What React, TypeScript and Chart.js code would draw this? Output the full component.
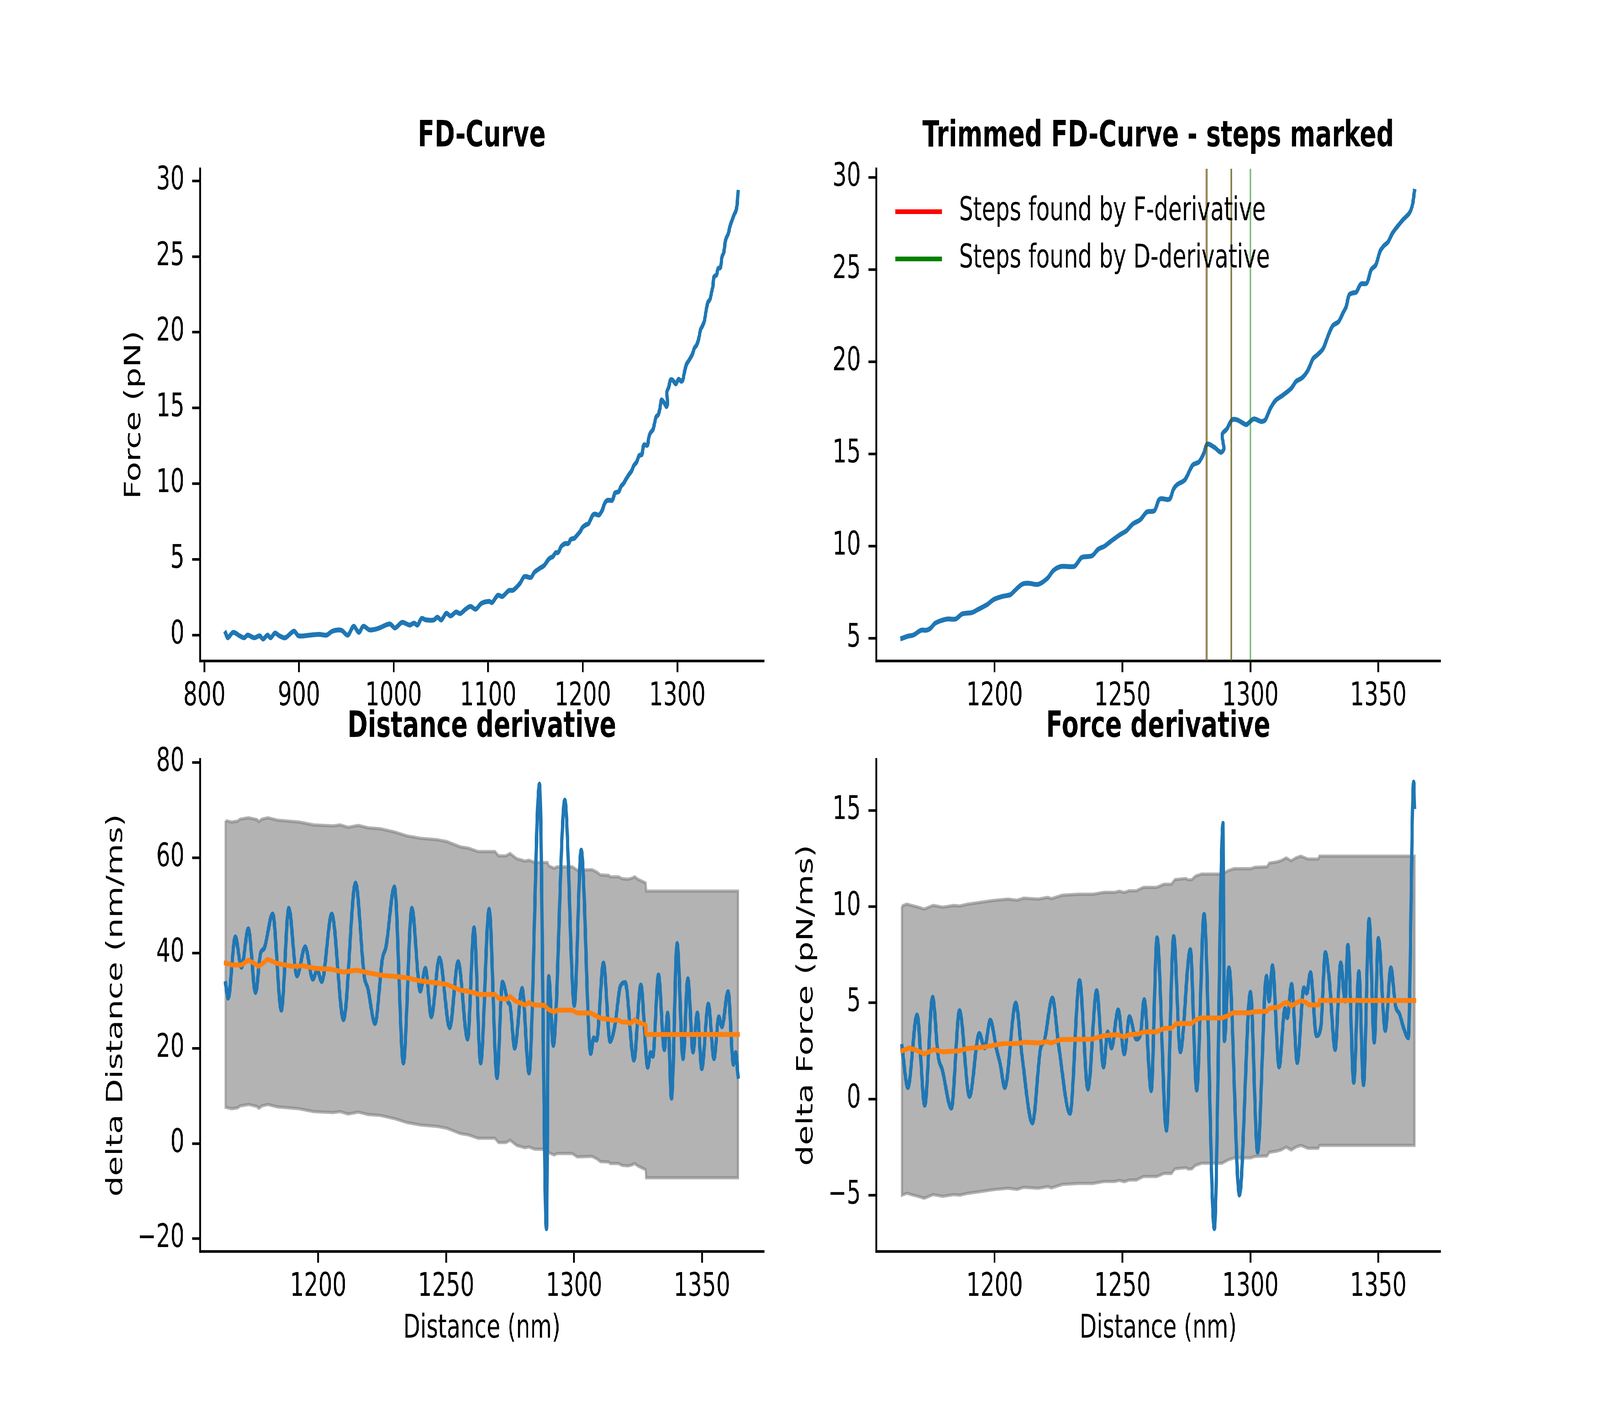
import React, { useEffect, useRef } from "react";
import Chart from "chart.js/auto";

// ---------- FD curve: distance (nm) / force (pN) ----------
const fdDistance = [
  822.4, 824.7, 830.3, 837.3, 842.0, 845.7, 852.7, 858.3, 862.0, 866.7,
  870.0, 874.6, 879.3, 885.4, 894.7, 899.4, 912.0, 921.3, 929.2, 935.3,
  944.6, 951.6, 957.7, 963.3, 967.9, 974.9, 984.2, 995.9, 1001.5, 1009.0,
  1016.9, 1021.6, 1025.3, 1029.5, 1034.2, 1042.5, 1046.3, 1050.5, 1055.6, 1060.3,
  1065.9, 1070.5, 1076.1, 1081.3, 1086.8, 1092.9, 1100.9, 1104.1, 1110.2, 1114.9,
  1121.8, 1126.5, 1133.5, 1138.2, 1145.2, 1148.9, 1154.5, 1159.2, 1163.8, 1166.3,
  1168.3, 1171.3, 1173.3, 1174.8, 1176.8, 1179.3, 1181.8, 1184.8, 1187.3, 1191.2,
  1193.2, 1197.2, 1199.7, 1203.2, 1206.2, 1208.2, 1210.7, 1213.1, 1217.1, 1220.6,
  1223.1, 1226.1, 1231.1, 1232.6, 1234.1, 1238.1, 1240.5, 1243.0, 1245.5, 1249.0,
  1251.5, 1254.0, 1257.0, 1259.5, 1262.5, 1264.5, 1268.4, 1269.9, 1271.4, 1274.4,
  1277.4, 1279.9, 1281.7, 1283.1, 1285.9, 1288.4, 1289.6, 1289.0, 1290.8, 1292.8,
  1294.8, 1298.3, 1299.3, 1301.3, 1304.3, 1305.8, 1307.8, 1309.8, 1312.4, 1315.9,
  1317.9, 1320.2, 1322.4, 1324.5, 1326.2, 1328.4, 1330.5, 1332.2, 1334.5, 1336.2,
  1337.4, 1338.6, 1340.0, 1341.4, 1343.1, 1345.5, 1347.2, 1349.0, 1350.7, 1352.1,
  1353.8, 1355.5, 1357.6, 1359.8, 1362.1, 1363.3, 1364.1,
];
const fdForce = [
  0.13, -0.18, 0.18, -0.05, -0.18, 0.0, -0.18, -0.05, -0.26, 0.0,
  -0.18, 0.13, -0.05, -0.18, 0.26, -0.05, 0.0, 0.05, 0.0, 0.26,
  0.32, 0.0, 0.58, 0.18, 0.58, 0.34, 0.45, 0.74, 0.47, 0.84,
  0.66, 0.79, 0.66, 1.1, 1.0, 1.0, 1.18, 1.0, 1.44, 1.26,
  1.52, 1.42, 1.71, 1.89, 1.71, 2.1, 2.23, 2.15, 2.63, 2.55,
  2.94, 2.97, 3.41, 3.86, 3.81, 4.15, 4.41, 4.6, 5.0, 5.12,
  5.18, 5.44, 5.44, 5.53, 5.82, 5.97, 6.05, 6.05, 6.32, 6.4,
  6.54, 6.84, 7.11, 7.28, 7.37, 7.63, 7.93, 7.99, 7.93, 8.25,
  8.69, 8.9, 8.9, 9.13, 9.39, 9.48, 9.83, 10.0, 10.27, 10.62,
  10.83, 11.2, 11.44, 11.85, 11.93, 12.55, 12.55, 13.08, 13.34, 13.6,
  14.39, 14.57, 15.01, 15.53, 15.36, 15.09, 15.27, 16.06, 16.36, 16.85,
  16.85, 16.59, 16.68, 16.9, 16.76, 16.85, 17.47, 17.9, 18.16, 18.55,
  18.94, 19.13, 19.52, 20.17, 20.38, 20.71, 21.46, 21.96, 22.18, 22.65,
  22.98, 23.63, 23.73, 23.78, 24.21, 24.27, 24.99, 25.25, 26.0, 26.28,
  26.5, 26.97, 27.36, 27.73, 28.06, 28.49, 29.24,
];
const trimFrom = 1163;

// ---------- steps marked on the trimmed curve ----------
const fSteps = [1282.8, 1292.5];
const dSteps = [1283.0, 1292.5, 1300.0];
const stepLabels = ["Steps found by F-derivative", "Steps found by D-derivative"];

// ---------- distance derivative (nm/ms) ----------
const distDerivX = [
  1163.8, 1164.8, 1167.6, 1170.0, 1172.7, 1175.5, 1177.5, 1178.9, 1182.2, 1185.6,
  1188.5, 1191.7, 1194.9, 1197.9, 1199.6, 1201.4, 1205.3, 1209.9, 1214.6, 1218.0,
  1219.4, 1222.2, 1225.1, 1226.5, 1229.8, 1233.3, 1236.6, 1239.9, 1241.9, 1244.2,
  1247.4, 1251.4, 1254.7, 1258.4, 1260.9, 1263.5, 1266.8, 1269.9, 1272.0, 1274.3,
  1275.0, 1276.8, 1279.7, 1282.4, 1286.5, 1289.2, 1290.1, 1291.9, 1296.4, 1300.1,
  1302.8, 1306.5, 1307.7, 1308.8, 1311.5, 1314.1, 1316.0, 1318.1, 1320.0, 1323.4,
  1326.1, 1328.8, 1329.9, 1330.8, 1333.0, 1335.3, 1336.6, 1338.1, 1340.3, 1342.6,
  1344.5, 1346.5, 1348.2, 1349.9, 1352.5, 1354.7, 1356.6, 1357.8, 1360.2, 1362.3,
  1363.2, 1364.1,
];
const distDerivY = [
  33.6, 30.5, 43.4, 37.0, 45.1, 31.7, 40.0, 41.0, 48.2, 28.0,
  49.4, 35.2, 41.3, 34.5, 36.4, 34.0, 48.2, 26.0, 54.7, 35.1,
  32.6, 25.2, 38.8, 41.3, 53.9, 16.9, 49.4, 32.0, 36.8, 26.6,
  39.0, 24.3, 38.2, 21.9, 45.3, 16.9, 49.2, 13.8, 33.9, 29.6,
  29.0, 20.0, 32.6, 14.8, 75.5, -17.9, 35.1, 20.6, 72.1, 29.0,
  61.6, 18.9, 22.2, 21.7, 37.9, 21.4, 24.9, 33.0, 33.8, 17.5,
  33.3, 16.0, 19.1, 18.3, 35.4, 19.7, 27.4, 9.5, 42.0, 17.8,
  34.6, 19.2, 27.4, 15.7, 29.3, 17.8, 26.6, 24.5, 31.9, 16.6,
  19.1, 14.1,
];
const distMeanX = [
  1163.8, 1166.2, 1170.0, 1172.7, 1175.0, 1176.8, 1178.5, 1180.2, 1184.0, 1190.0,
  1194.0, 1198.9, 1205.0, 1210.0, 1215.0, 1220.0, 1225.0, 1230.0, 1234.7, 1239.4,
  1246.5, 1250.3, 1255.5, 1258.3, 1263.0, 1269.1, 1270.5, 1273.8, 1275.0, 1277.1,
  1280.9, 1282.3, 1284.2, 1288.5, 1290.1, 1292.2, 1293.4, 1299.3, 1301.2, 1306.5,
  1307.5, 1309.4, 1310.3, 1313.6, 1314.5, 1317.4, 1318.8, 1321.1, 1322.1, 1323.7,
  1324.9, 1328.0, 1328.2, 1364.1,
];
const distMeanY = [
  37.9, 37.5, 37.5, 38.5, 37.8, 37.2, 37.9, 38.7, 37.8, 37.2,
  37.3, 36.8, 36.6, 36.0, 36.4, 35.8, 35.3, 35.1, 34.8, 34.2,
  33.7, 33.4, 32.2, 32.0, 31.3, 31.3, 30.5, 30.3, 30.9, 29.9,
  29.1, 29.6, 29.1, 29.0, 28.1, 27.6, 28.0, 28.0, 27.4, 27.4,
  27.1, 26.6, 26.3, 26.1, 25.9, 25.9, 25.5, 25.5, 25.2, 26.0,
  25.5, 24.9, 22.9, 22.9,
];
const distBandX = [
  1163.8, 1166.2, 1168.5, 1169.5, 1172.8, 1176.1, 1176.8, 1178.0, 1180.3, 1184.1,
  1192.6, 1198.2, 1205.8, 1208.6, 1211.7, 1215.7, 1219.5, 1224.2, 1230.0, 1234.7,
  1239.9, 1246.5, 1250.3, 1255.5, 1258.8, 1262.5, 1269.1, 1270.5, 1273.4, 1275.0,
  1277.6, 1280.9, 1282.3, 1284.7, 1289.6, 1290.1, 1292.2, 1293.4, 1299.3, 1301.2,
  1307.0, 1308.9, 1310.3, 1313.6, 1314.1, 1317.4, 1318.8, 1321.1, 1322.6, 1323.7,
  1324.9, 1328.0, 1328.2, 1364.1,
];
const distBandUpper = [
  67.8, 67.5, 67.7, 68.1, 68.4, 68.0, 67.6, 68.1, 68.4, 67.9,
  67.5, 66.9, 66.7, 66.9, 66.4, 66.8, 66.3, 66.1, 65.4, 64.6,
  64.1, 63.8, 63.4, 62.3, 62.0, 61.3, 61.3, 60.4, 60.4, 60.9,
  59.8, 59.3, 59.5, 59.0, 59.0, 58.3, 57.8, 58.1, 58.1, 57.4,
  57.5, 57.0, 56.4, 56.3, 56.0, 56.0, 55.6, 55.5, 55.7, 56.0,
  55.5, 54.7, 53.0, 53.0,
];
const distBandLower = [
  7.6, 7.3, 7.5, 7.9, 8.2, 7.8, 7.4, 7.9, 8.2, 7.7,
  7.3, 6.7, 6.5, 6.7, 6.2, 6.6, 6.1, 5.9, 5.2, 4.4,
  3.9, 3.6, 3.2, 2.1, 1.8, 1.1, 1.1, 0.2, 0.2, 0.7,
  -0.4, -0.9, -0.7, -1.2, -1.2, -1.9, -2.4, -2.1, -2.1, -2.8,
  -2.7, -3.2, -3.8, -3.9, -4.2, -4.2, -4.6, -4.7, -4.5, -4.2,
  -4.7, -5.5, -7.2, -7.2,
];

// ---------- force derivative (pN/ms) ----------
const forceDerivX = [
  1163.8, 1166.1, 1169.7, 1172.7, 1175.8, 1177.9, 1179.6, 1183.1, 1186.3, 1190.2,
  1194.0, 1196.1, 1198.3, 1200.8, 1202.2, 1204.0, 1208.3, 1210.7, 1214.8, 1218.0,
  1219.4, 1222.6, 1225.1, 1229.5, 1233.2, 1236.5, 1239.9, 1242.6, 1244.2, 1245.7,
  1248.3, 1250.7, 1252.7, 1255.4, 1257.0, 1258.5, 1261.2, 1263.5, 1267.2, 1270.0,
  1272.6, 1276.5, 1279.0, 1281.9, 1285.9, 1289.3, 1289.8, 1291.6, 1295.7, 1300.0,
  1302.8, 1306.3, 1307.3, 1308.6, 1311.2, 1313.5, 1314.4, 1316.1, 1318.3, 1320.9,
  1322.0, 1323.5, 1325.8, 1327.5, 1329.3, 1330.8, 1333.1, 1335.3, 1337.0, 1338.1,
  1340.4, 1342.4, 1344.2, 1346.4, 1348.4, 1350.0, 1352.7, 1354.9, 1356.7, 1358.3,
  1360.0, 1361.7, 1363.8, 1364.1,
];
const forceDerivY = [
  2.73, 0.59, 4.37, -0.33, 5.29, 2.27, 1.5, -0.48, 4.59, 0.13,
  3.41, 2.65, 4.1, 2.57, 1.81, 0.59, 4.99, 2.27, -1.25, 2.65,
  3.0, 5.25, 2.73, -0.75, 6.16, 0.51, 5.63, 1.66, 3.49, 2.65,
  4.63, 2.34, 4.28, 3.11, 3.34, 5.17, 0.43, 8.38, -1.63, 8.45,
  2.45, 7.77, 0.46, 9.6, -6.74, 14.33, 3.03, 6.82, -4.99, 5.55,
  -2.77, 6.39, 5.09, 6.93, 1.66, 4.71, 4.22, 5.96, 1.89, 5.78,
  5.5, 6.57, 3.29, 3.72, 7.61, 6.24, 2.57, 7.08, 5.09, 7.99,
  0.86, 6.62, 0.74, 9.34, 2.95, 8.35, 3.56, 6.82, 4.86, 4.41,
  3.64, 3.18, 16.47, 15.2,
];
const forceMeanX = [
  1163.8, 1166.6, 1169.4, 1172.6, 1176.3, 1179.8, 1185.9, 1189.2, 1195.8, 1203.4,
  1209.0, 1211.4, 1217.5, 1220.4, 1222.2, 1226.0, 1238.0, 1242.7, 1247.9, 1250.7,
  1252.6, 1256.3, 1258.2, 1263.4, 1266.2, 1269.1, 1271.0, 1277.1, 1278.0, 1280.4,
  1288.9, 1291.2, 1293.1, 1299.7, 1301.1, 1306.5, 1307.4, 1311.2, 1313.1, 1314.5,
  1315.9, 1317.3, 1319.7, 1322.0, 1322.8, 1326.8, 1327.0, 1364.1,
];
const forceMeanY = [
  2.5, 2.65, 2.54, 2.34, 2.57, 2.45, 2.5, 2.62, 2.7, 2.88,
  2.88, 2.95, 2.91, 2.98, 2.91, 3.09, 3.11, 3.29, 3.34, 3.23,
  3.34, 3.38, 3.49, 3.49, 3.67, 3.67, 3.92, 3.92, 4.05, 4.21,
  4.21, 4.33, 4.48, 4.48, 4.53, 4.56, 4.71, 4.79, 4.99, 5.02,
  4.83, 4.94, 5.12, 4.99, 4.89, 4.89, 5.12, 5.12,
];
const forceBandX = [
  1163.8, 1165.7, 1167.5, 1169.9, 1172.5, 1176.0, 1179.8, 1184.1, 1186.4, 1189.2,
  1194.0, 1199.6, 1205.3, 1208.8, 1211.4, 1217.1, 1220.8, 1222.2, 1226.5, 1232.8,
  1238.4, 1242.7, 1246.9, 1248.8, 1250.7, 1252.6, 1255.4, 1258.2, 1263.4, 1266.2,
  1269.1, 1270.5, 1274.7, 1275.7, 1277.1, 1278.5, 1280.9, 1288.9, 1291.2, 1293.6,
  1300.2, 1301.6, 1306.5, 1307.4, 1310.3, 1311.9, 1314.0, 1315.9, 1317.8, 1319.7,
  1322.5, 1326.5, 1327.0, 1364.1,
];
const forceBandUpper = [
  10.03, 10.13, 10.06, 9.98, 9.87, 10.06, 9.97, 10.06, 10.03, 10.12,
  10.21, 10.32, 10.39, 10.33, 10.44, 10.39, 10.48, 10.41, 10.59, 10.64,
  10.64, 10.74, 10.74, 10.8, 10.73, 10.82, 10.82, 11.0, 11.0, 11.16,
  11.16, 11.4, 11.46, 11.39, 11.4, 11.58, 11.69, 11.69, 11.86, 11.97,
  11.97, 12.04, 12.07, 12.26, 12.32, 12.38, 12.53, 12.38, 12.53, 12.62,
  12.47, 12.47, 12.62, 12.62,
];
const forceBandLower = [
  -5.0, -4.9, -4.97, -5.05, -5.16, -4.97, -5.06, -4.97, -5.0, -4.91,
  -4.82, -4.71, -4.64, -4.7, -4.59, -4.64, -4.55, -4.62, -4.44, -4.39,
  -4.39, -4.29, -4.29, -4.23, -4.3, -4.21, -4.21, -4.03, -4.03, -3.87,
  -3.87, -3.63, -3.57, -3.64, -3.63, -3.45, -3.34, -3.34, -3.17, -3.06,
  -3.06, -2.99, -2.96, -2.77, -2.71, -2.65, -2.5, -2.65, -2.5, -2.41,
  -2.56, -2.56, -2.41, -2.41,
];

// ---------- ticks and axis limits ----------
const fdTicksX = [800, 900, 1000, 1100, 1200, 1300];
const fdTicksY = [0, 5, 10, 15, 20, 25, 30];
const trimTicksX = [1200, 1250, 1300, 1350];
const trimTicksY = [5, 10, 15, 20, 25, 30];
const distTicksY = [-20, 0, 20, 40, 60, 80];
const forceTicksY = [-5, 0, 5, 10, 15];

const fdLimX = [795.3, 1391.2];
const fdLimY = [-1.7, 30.8];
const trimLimX = [1153.8, 1374.1];
const trimLimY = [3.78, 30.47];
const distLimY = [-22.65, 80.7];
const forceLimY = [-7.92, 17.66];

// ---------- style ----------
const FIG_W = 6000;
const FIG_H = 3600;
const PX = 600 / 72; // pixels per point
const FONT = "'DejaVu Sans', sans-serif";
const FONT_PX = 10 * PX;
const TITLE_PX = 92;
const LINE_W = 1.5 * PX;
const SPINE_W = 0.8 * PX;
const TICK_LEN = 3.5 * PX;
const BLUE = "#1f77b4";
const ORANGE = "#ff7f0e";
const BAND = "rgba(128,128,128,0.6)";

Chart.defaults.font.family = FONT;
Chart.defaults.color = "#000";

// canvas pieces: each subplot gets its own canvas, overlapping is fine
const COLS = [
  { canvasLeft: 0, canvasWidth: 3000, axesLeft: 750, axesRight: 2863.6 },
  { canvasLeft: 2900, canvasWidth: 3100, axesLeft: 386.4, axesRight: 2500 },
];
const ROWS = [
  { canvasTop: 0, canvasHeight: 1900, axesTop: 432, axesBottom: 1692 },
  { canvasTop: 1750, canvasHeight: 1850, axesTop: 194, axesBottom: 1454 },
];

const pts = (xs: number[], ys: number[]) => xs.map((x, i) => ({ x, y: ys[i] }));
const band = (xs: number[], up: number[], lo: number[]) => [
  ...pts(xs, up),
  ...pts(xs, lo).reverse(),
  { x: xs[0], y: up[0] },
];
const fmt = (v: number) => String(v).replace("-", "\u2212");

// legend drawn inside the axes, upper left, without a frame
const stepLegend = {
  id: "stepLegend",
  afterDatasetsDraw(chart: any, _args: any, opts: any) {
    if (!opts || !opts.labels) return;
    const { ctx, chartArea } = chart;
    ctx.save();
    opts.labels.forEach((label: string, i: number) => {
      const y = chartArea.top + opts.firstRow + i * opts.rowGap;
      ctx.strokeStyle = opts.colors[i];
      ctx.lineWidth = opts.lineWidth;
      ctx.lineCap = "butt";
      ctx.beginPath();
      ctx.moveTo(chartArea.left + opts.handleX, y);
      ctx.lineTo(chartArea.left + opts.handleX + opts.handleLength, y);
      ctx.stroke();
      ctx.fillStyle = "#000";
      ctx.font = `${FONT_PX}px ${FONT}`;
      ctx.textAlign = "left";
      ctx.textBaseline = "middle";
      ctx.fillText(label, chartArea.left + opts.textX, y);
    });
    ctx.restore();
  },
};

interface PlotSpec {
  col: number;
  row: number;
  title: string;
  yBoxLeft: number;
  xLim: number[];
  xTicks: number[];
  yLim: number[];
  yTicks: number[];
  yTitle?: string;
  xTitle?: string;
}

function makeOptions(p: PlotSpec) {
  const c = COLS[p.col];
  const r = ROWS[p.row];
  const titleGap = 26;
  const titleBox = TITLE_PX * 1.2 + titleGap;
  const tickStyle = {
    color: "#000",
    font: { size: FONT_PX, family: FONT },
    maxRotation: 0,
    autoSkip: false,
    callback: (v: any) => fmt(Number(v)),
  };
  const grid = {
    display: true,
    drawOnChartArea: false,
    drawTicks: true,
    tickLength: TICK_LEN,
    color: "#000",
    lineWidth: SPINE_W,
  };
  return {
    responsive: false,
    animation: false,
    devicePixelRatio: 1,
    events: [],
    layout: {
      padding: {
        left: p.yBoxLeft,
        top: r.axesTop - titleBox,
        right: c.canvasWidth - c.axesRight,
        bottom: 0,
      },
    },
    plugins: {
      legend: { display: false },
      tooltip: { enabled: false },
      title: {
        display: true,
        text: p.title,
        fullSize: false,
        color: "#000",
        font: { size: TITLE_PX, weight: "bold", family: FONT, lineHeight: 1.2 },
        padding: { top: 0, bottom: titleGap },
      },
    },
    scales: {
      x: {
        type: "linear",
        position: "bottom",
        bounds: "data",
        min: p.xLim[0],
        max: p.xLim[1],
        afterBuildTicks: (s: any) => {
          s.ticks = p.xTicks.map((value) => ({ value }));
        },
        afterFit: (s: any) => {
          s.height = r.canvasHeight - r.axesBottom;
        },
        grid,
        border: { display: true, color: "#000", width: SPINE_W },
        ticks: { ...tickStyle, padding: 13 },
        title: p.xTitle
          ? {
              display: true,
              text: p.xTitle,
              color: "#000",
              font: { size: FONT_PX, family: FONT, lineHeight: 1.2 },
              padding: { top: 0, bottom: 147 },
            }
          : { display: false },
      },
      y: {
        type: "linear",
        position: "left",
        bounds: "data",
        min: p.yLim[0],
        max: p.yLim[1],
        afterBuildTicks: (s: any) => {
          s.ticks = p.yTicks.map((value) => ({ value }));
        },
        afterFit: (s: any) => {
          s.width = c.axesLeft - p.yBoxLeft;
        },
        grid,
        border: { display: true, color: "#000", width: SPINE_W },
        ticks: { ...tickStyle, padding: TICK_LEN },
        title: p.yTitle
          ? {
              display: true,
              text: p.yTitle,
              color: "#000",
              font: { size: FONT_PX, family: FONT, lineHeight: 1.2 },
              padding: { top: 0, bottom: 0 },
            }
          : { display: false },
      },
    },
  };
}

const curveStyle = {
  borderColor: BLUE,
  borderWidth: LINE_W,
  pointRadius: 0,
  fill: false,
  borderJoinStyle: "round",
  borderCapStyle: "square",
};

const vline = (x: number, color: string, order: number) => ({
  data: [
    { x, y: trimLimY[0] },
    { x, y: trimLimY[1] },
  ],
  borderColor: color,
  borderWidth: 6,
  pointRadius: 0,
  fill: false,
  order,
});

const buildFd = () => ({
  type: "line",
  data: {
    datasets: [{ ...curveStyle, data: pts(fdDistance, fdForce), tension: 0.3 }],
  },
  options: makeOptions({
    col: 0,
    row: 0,
    title: "FD-Curve",
    yBoxLeft: 454,
    xLim: fdLimX,
    xTicks: fdTicksX,
    yLim: fdLimY,
    yTicks: fdTicksY,
    yTitle: "Force (pN)",
  }),
});

const buildTrimmed = () => {
  const start = fdDistance.findIndex((d) => d >= trimFrom);
  const options: any = makeOptions({
    col: 1,
    row: 0,
    title: "Trimmed FD-Curve - steps marked",
    yBoxLeft: 0,
    xLim: trimLimX,
    xTicks: trimTicksX,
    yLim: trimLimY,
    yTicks: trimTicksY,
  });
  options.plugins.stepLegend = {
    labels: stepLabels,
    colors: ["#ff0000", "#008000"],
    handleX: 71,
    handleLength: 175,
    textX: 310,
    firstRow: 110,
    rowGap: 121,
    lineWidth: 12,
  };
  return {
    type: "line",
    data: {
      datasets: [
        {
          ...curveStyle,
          data: pts(fdDistance.slice(start), fdForce.slice(start)),
          tension: 0.3,
          order: 20,
        },
        ...fSteps.map((x, i) => vline(x, "rgba(255,0,0,0.5)", 10 - i)),
        ...dSteps.map((x, i) => vline(x, "rgba(0,128,0,0.5)", 5 - i)),
      ],
    },
    options,
    plugins: [stepLegend],
  };
};

const derivDatasets = (
  bx: number[], up: number[], lo: number[],
  dx: number[], dy: number[],
  mx: number[], my: number[],
) => [
  {
    data: band(bx, up, lo),
    fill: "shape",
    backgroundColor: BAND,
    borderColor: BAND,
    borderWidth: 1 * PX,
    borderJoinStyle: "miter",
    pointRadius: 0,
    tension: 0,
    order: 3,
  },
  { ...curveStyle, data: pts(dx, dy), cubicInterpolationMode: "monotone", order: 2 },
  {
    ...curveStyle,
    borderColor: ORANGE,
    data: pts(mx, my),
    tension: 0,
    order: 1,
  },
];

const buildDist = () => ({
  type: "line",
  data: {
    datasets: derivDatasets(
      distBandX, distBandUpper, distBandLower,
      distDerivX, distDerivY, distMeanX, distMeanY,
    ),
  },
  options: makeOptions({
    col: 0,
    row: 1,
    title: "Distance derivative",
    yBoxLeft: 386,
    xLim: trimLimX,
    xTicks: trimTicksX,
    yLim: distLimY,
    yTicks: distTicksY,
    yTitle: "delta Distance (nm/ms)",
    xTitle: "Distance (nm)",
  }),
});

const buildForce = () => ({
  type: "line",
  data: {
    datasets: derivDatasets(
      forceBandX, forceBandUpper, forceBandLower,
      forceDerivX, forceDerivY, forceMeanX, forceMeanY,
    ),
  },
  options: makeOptions({
    col: 1,
    row: 1,
    title: "Force derivative",
    yBoxLeft: 75,
    xLim: trimLimX,
    xTicks: trimTicksX,
    yLim: forceLimY,
    yTicks: forceTicksY,
    yTitle: "delta Force (pN/ms)",
    xTitle: "Distance (nm)",
  }),
});

const ChartCanvas = ({ col, row, build }: { col: number; row: number; build: () => any }) => {
  const canvasRef = useRef<HTMLCanvasElement>(null);
  const c = COLS[col];
  const r = ROWS[row];

  useEffect(() => {
    if (!canvasRef.current) return;
    // eslint-disable-next-line @typescript-eslint/no-explicit-any
    const chart = new Chart(canvasRef.current, build() as any);
    return () => chart.destroy();
  }, [build]);

  return (
    <canvas
      ref={canvasRef}
      width={c.canvasWidth}
      height={r.canvasHeight}
      style={{
        position: "absolute",
        left: c.canvasLeft,
        top: r.canvasTop,
        width: c.canvasWidth,
        height: r.canvasHeight,
      }}
    />
  );
};

const App = () => {
  // the figure is laid out at 6000x3600 and scaled to whatever the viewport really is
  const sx = (window.innerWidth || FIG_W) / FIG_W;
  const sy = (window.innerHeight || FIG_H) / FIG_H;

  useEffect(() => {
    document.body.style.margin = "0";
    document.body.style.overflow = "hidden";
  }, []);

  return (
    <div
      style={{
        position: "absolute",
        left: 0,
        top: 0,
        width: FIG_W,
        height: FIG_H,
        background: "#ffffff",
        overflow: "hidden",
        transform: `scale(${sx}, ${sy})`,
        transformOrigin: "0 0",
      }}
    >
      <ChartCanvas col={0} row={0} build={buildFd} />
      <ChartCanvas col={1} row={0} build={buildTrimmed} />
      <ChartCanvas col={0} row={1} build={buildDist} />
      <ChartCanvas col={1} row={1} build={buildForce} />
    </div>
  );
};

export default App;
